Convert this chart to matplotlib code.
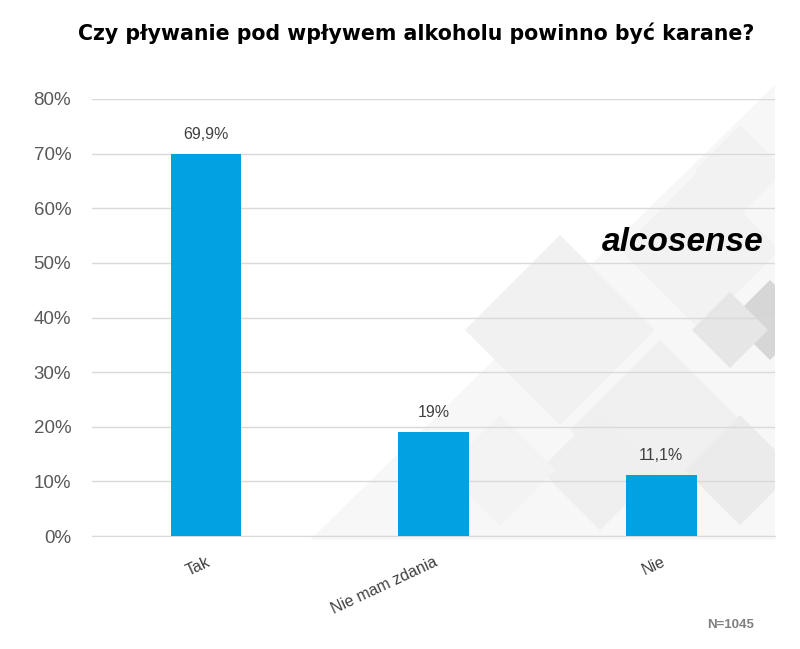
import matplotlib.pyplot as plt
from matplotlib.patches import Polygon

categories = ["Tak", "Nie mam zdania", "Nie"]
values = [69.9, 19.0, 11.1]
value_labels = ["69,9%", "19%", "11,1%"]
yticks = [0, 10, 20, 30, 40, 50, 60, 70, 80]

plt.rcParams['font.family'] = ['Liberation Sans', 'DejaVu Sans']

fig = plt.figure(figsize=(8, 6.49), dpi=100)
ax = fig.add_axes([0.115, 0.174, 0.854, 0.6735])

# light grey diamond background on the right
bg = fig.add_axes([0, 0, 1, 1], zorder=-1)
bg.set_xlim(0, 800)
bg.set_ylim(649, 0)
bg.axis('off')
bg.add_patch(Polygon([(310, 540), (775, 85), (775, 540)], closed=True, color='#f7f7f7', lw=0))
diamonds = [
    ((560, 330), 95, '#f1f1f1'), ((660, 430), 90, '#f0f0f0'), ((700, 250), 80, '#f2f2f2'),
    ((770, 320), 40, '#d6d6d6'), ((730, 330), 38, '#e6e6e6'), ((600, 470), 60, '#efefef'),
    ((740, 470), 55, '#ebebeb'), ((500, 470), 55, '#f3f3f3'), ((740, 170), 45, '#f2f2f2'),
]
for (cx, cy), r, c in diamonds:
    bg.add_patch(Polygon([(cx, cy - r), (cx + r, cy), (cx, cy + r), (cx - r, cy)],
                         closed=True, color=c, lw=0))
bg.add_patch(Polygon([(0, 0), (800, 0), (800, 85), (0, 85)], closed=True, color='white', lw=0))
bg.add_patch(Polygon([(775, 85), (800, 85), (800, 649), (775, 649)], closed=True, color='white', lw=0))
bg.add_patch(Polygon([(0, 540), (800, 540), (800, 649), (0, 649)], closed=True, color='white', lw=0))

ax.patch.set_alpha(0)
x = range(len(categories))
ax.bar(x, values, width=0.31, color='#00a3e0', zorder=3)
for i, (v, lab) in enumerate(zip(values, value_labels)):
    ax.text(i, v + 2.3, lab, ha='center', va='bottom', fontsize=11.5, color='#404040')

ax.set_xlim(-0.5, 2.5)
ax.set_ylim(0, 80)
ax.set_yticks(yticks)
ax.set_yticklabels([f"{t}%" for t in yticks], fontsize=13.5, color='#595959')
ax.set_xticks(list(x))
ax.set_xticklabels(categories, rotation=25, ha='right', rotation_mode='anchor',
                   fontsize=11.5, color='#404040')
ax.tick_params(axis='both', length=0)
ax.tick_params(axis='y', pad=15)
ax.tick_params(axis='x', pad=13)
ax.grid(axis='y', color='#d9d9d9', lw=1, zorder=0)
for s in ['top', 'right', 'left']:
    ax.spines[s].set_visible(False)
ax.spines['bottom'].set_color('#d9d9d9')

fig.text(0.52, 0.948, "Czy pływanie pod wpływem alkoholu powinno być karane?",
         ha='center', va='center', fontsize=14.8, fontweight='bold', color='black',
         family='DejaVu Sans')
fig.text(0.955, 0.627, "alcosense", ha='right', va='center', fontsize=24,
         fontweight='heavy', style='italic', color='black')
fig.text(0.943, 0.037, "N=1045", ha='right', va='center', fontsize=9.5,
         fontweight='bold', color='#808080')

fig.savefig("out.png", dpi=100)
